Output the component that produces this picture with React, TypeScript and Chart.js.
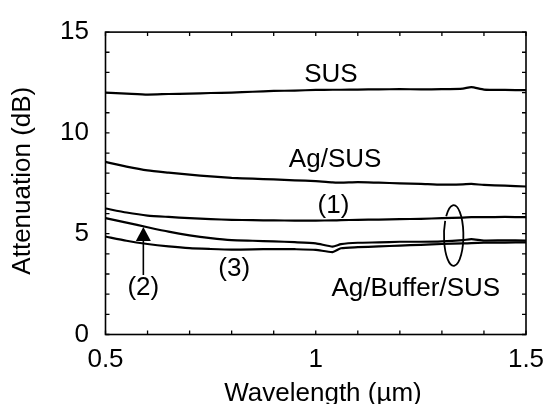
import React, { useEffect, useRef } from "react";
import { Chart, registerables } from "chart.js";

Chart.register(...registerables);

const wavelengths = [0.5, 0.55, 0.6, 0.65, 0.7, 0.75, 0.8, 0.85, 0.9, 0.95, 1.0, 1.04, 1.06, 1.1, 1.15, 1.2, 1.25, 1.3, 1.35, 1.37, 1.4, 1.45, 1.5];
const sus = [12.0, 11.95, 11.9, 11.93, 11.95, 11.98, 12.0, 12.04, 12.08, 12.1, 12.13, 12.14, 12.14, 12.15, 12.16, 12.17, 12.16, 12.17, 12.2, 12.27, 12.15, 12.13, 12.12];
const agSus = [8.56, 8.33, 8.14, 8.03, 7.93, 7.84, 7.77, 7.73, 7.69, 7.65, 7.61, 7.55, 7.53, 7.56, 7.53, 7.5, 7.47, 7.43, 7.45, 7.47, 7.42, 7.38, 7.34];
const buffer1 = [6.25, 6.05, 5.9, 5.83, 5.77, 5.72, 5.69, 5.67, 5.66, 5.65, 5.65, 5.66, 5.67, 5.69, 5.7, 5.72, 5.74, 5.77, 5.8, 5.82, 5.82, 5.83, 5.82];
const buffer2 = [5.77, 5.55, 5.32, 5.1, 4.92, 4.78, 4.68, 4.65, 4.62, 4.58, 4.52, 4.36, 4.48, 4.55, 4.57, 4.6, 4.6, 4.62, 4.68, 4.73, 4.66, 4.67, 4.66];
const buffer3 = [4.86, 4.65, 4.49, 4.37, 4.28, 4.24, 4.21, 4.22, 4.24, 4.23, 4.2, 4.09, 4.28, 4.33, 4.37, 4.41, 4.45, 4.49, 4.52, 4.53, 4.55, 4.56, 4.57];

const xTickValues = [0.5, 1, 1.5];
const xTickLabels = ["0.5", "1", "1.5"];

// annotation texts with data-space anchors
const annotations = [
  { text: "SUS", x: 1.036, y: 12.88 },
  { text: "Ag/SUS", x: 1.046, y: 8.66 },
  { text: "(1)", x: 1.042, y: 6.4 },
  { text: "(3)", x: 0.806, y: 3.28 },
  { text: "(2)", x: 0.59, y: 2.32 },
  { text: "Ag/Buffer/SUS", x: 1.238, y: 2.27 },
];
const arrow = { x: 0.59, tail: 2.95, tip: 5.33 };
const ellipse = { x: 1.328, y: 4.91 };

const FONT = "'Liberation Sans', Arial, sans-serif";

const decor = {
  id: "decor",
  afterDraw(chart: any) {
    const ctx = chart.ctx;
    const { left, right, top, bottom } = chart.chartArea;
    const xs = chart.scales.x;
    const ys = chart.scales.y;
    ctx.save();
    ctx.strokeStyle = "#000";
    ctx.fillStyle = "#000";
    // frame
    ctx.lineWidth = 1.6;
    ctx.strokeRect(left, top, right - left, bottom - top);
    // inward ticks
    ctx.lineWidth = 1.3;
    ctx.beginPath();
    for (let v = 0; v <= 15; v += 1) {
      const py = ys.getPixelForValue(v);
      ctx.moveTo(left, py); ctx.lineTo(left + 4, py);
      ctx.moveTo(right, py); ctx.lineTo(right - 4, py);
    }
    for (let i = 0; i <= 10; i++) {
      const px = xs.getPixelForValue(0.5 + i * 0.1);
      ctx.moveTo(px, bottom); ctx.lineTo(px, bottom - 4);
      ctx.moveTo(px, top); ctx.lineTo(px, top + 4);
    }
    ctx.stroke();
    // x tick labels
    ctx.font = `26px ${FONT}`;
    ctx.textBaseline = "alphabetic";
    ctx.textAlign = "center";
    xTickValues.forEach((v, i) => {
      ctx.fillText(xTickLabels[i], xs.getPixelForValue(v), 367);
    });
    // axis titles
    ctx.fillText("Wavelength (µm)", 323, 400.5);
    ctx.save();
    ctx.translate(22.5, 180.7);
    ctx.rotate(-Math.PI / 2);
    ctx.textBaseline = "middle";
    ctx.fillText("Attenuation (dB)", 0, 0);
    ctx.restore();
    // annotations
    ctx.textBaseline = "middle";
    annotations.forEach((a) => {
      ctx.fillText(a.text, xs.getPixelForValue(a.x), ys.getPixelForValue(a.y));
    });
    // arrow
    const ax = xs.getPixelForValue(arrow.x);
    const tipY = ys.getPixelForValue(arrow.tip);
    const tailY = ys.getPixelForValue(arrow.tail);
    ctx.lineWidth = 1.6;
    ctx.beginPath();
    ctx.moveTo(ax, tailY);
    ctx.lineTo(ax, tipY + 12);
    ctx.stroke();
    ctx.beginPath();
    ctx.moveTo(ax, tipY);
    ctx.lineTo(ax - 7.5, tipY + 14);
    ctx.lineTo(ax + 7.5, tipY + 14);
    ctx.closePath();
    ctx.fill();
    // ellipse (nearly closed, small gap upper-left)
    const ex = xs.getPixelForValue(ellipse.x);
    const ey = ys.getPixelForValue(ellipse.y);
    ctx.lineWidth = 1.8;
    ctx.beginPath();
    ctx.ellipse(ex, ey, 9.7, 30.3, 0, Math.PI * 1.22, Math.PI * 3.16);
    ctx.stroke();
    ctx.restore();
  },
};

export default function App() {
  const ref = useRef<HTMLCanvasElement | null>(null);
  useEffect(() => {
    if (!ref.current) return;
    const mk = (data: number[]) => ({
      data: wavelengths.map((x, i) => ({ x, y: data[i] })),
      borderColor: "#000",
      borderWidth: 2.2,
      pointRadius: 0,
      tension: 0.2,
      fill: false,
    });
    const chart = new Chart(ref.current, {
      type: "line",
      data: {
        datasets: [mk(sus), mk(agSus), mk(buffer1), mk(buffer2), mk(buffer3)],
      },
      options: {
        animation: false,
        responsive: true,
        maintainAspectRatio: false,
        layout: { padding: { top: 21.7, right: 20, left: 0, bottom: 0 } },
        plugins: { legend: { display: false }, tooltip: { enabled: false } },
        scales: {
          x: {
            type: "linear",
            min: 0.5,
            max: 1.5,
            grid: { display: false, drawTicks: false },
            border: { display: false },
            ticks: { display: false },
            afterFit: (s: any) => { s.height = 69.5; },
          },
          y: {
            type: "linear",
            min: 0,
            max: 15,
            grid: { display: false, drawTicks: false },
            border: { display: false },
            ticks: {
              stepSize: 1,
              autoSkip: false,
              padding: 16.5,
              color: "#000",
              font: { family: FONT, size: 26 },
              callback: (v: any) => (Number(v) % 5 === 0 ? String(v) : ""),
            },
            afterFit: (s: any) => { s.width = 105.5; },
          },
        },
      },
      plugins: [decor],
    });
    return () => chart.destroy();
  }, []);
  return (
    <div style={{ position: "fixed", left: 0, top: 0, width: 546, height: 404, background: "#fff" }}>
      <canvas ref={ref} />
    </div>
  );
}
